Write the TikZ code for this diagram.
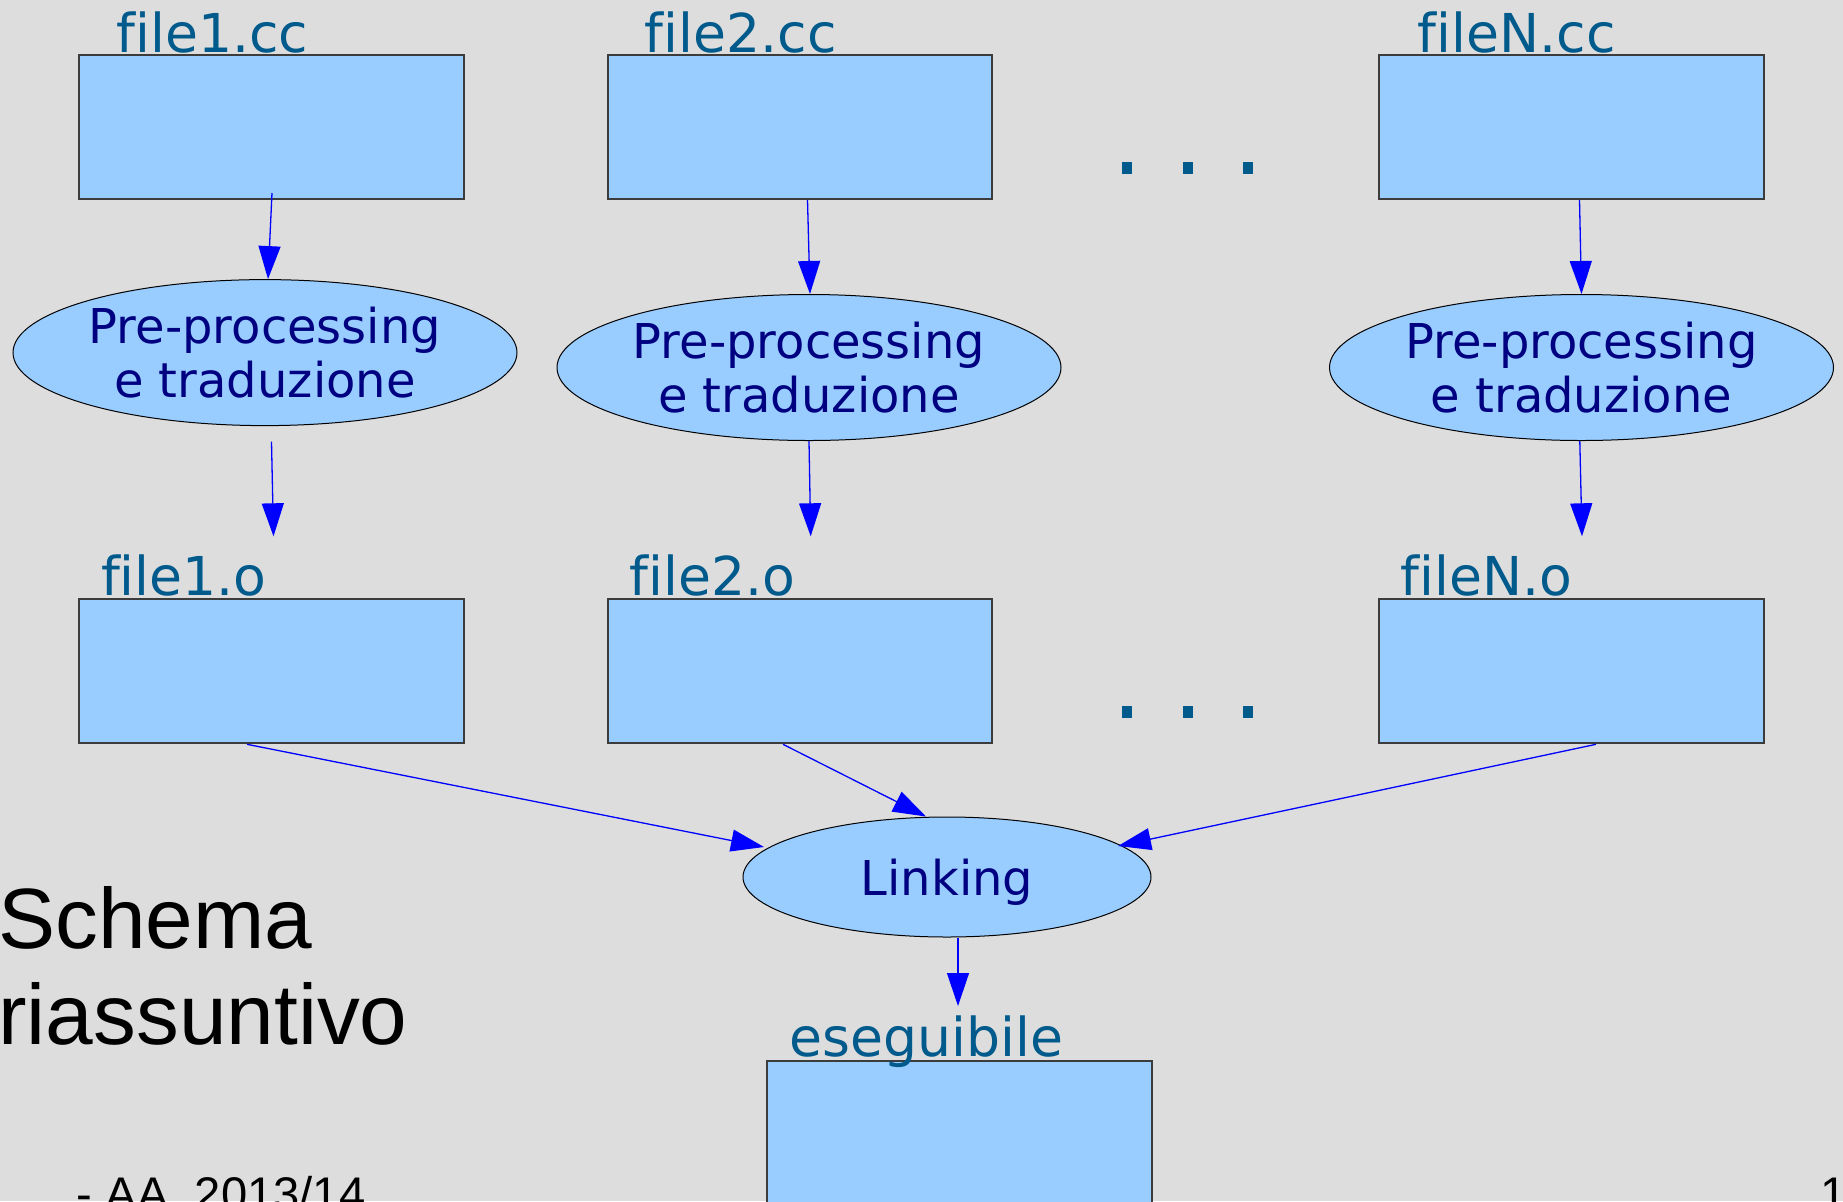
\documentclass[tikz,border=0pt]{standalone}
\usepackage{fontspec}
\setmainfont[Ligatures={NoCommon}]{DejaVu Sans}
\newfontfamily\arialfont[Ligatures={NoCommon}]{Liberation Sans}
\usetikzlibrary{shapes.geometric,arrows.meta,calc}
\definecolor{bg}{HTML}{DDDDDD}
\definecolor{boxfill}{HTML}{99CCFF}
\definecolor{lblcol}{RGB}{0,90,140}
\definecolor{navytext}{HTML}{000080}
\definecolor{boxline}{HTML}{3C3C3C}
\begin{document}
\begin{tikzpicture}[x=0.5pt,y=-0.5pt,
  filebox/.style={draw=boxline,line width=1pt,fill=boxfill,minimum width=192.25pt,minimum height=72pt,inner sep=0pt},
  proc/.style={ellipse,draw=black,line width=0.5pt,fill=boxfill,minimum width=252pt,minimum height=73pt,inner sep=0pt,align=center,text=navytext,font=\fontsize{24}{27.25}\selectfont},
  lbl/.style={anchor=base west,inner sep=0pt,text=lblcol,font=\fontsize{26.8}{30}\selectfont},
  arr/.style={draw=blue,line width=0.65pt,-{Triangle[length=16.5pt,width=11pt]}},
  plain/.style={inner sep=0pt,text=black,font=\arialfont\fontsize{23.6}{28}\selectfont}]
\fill[bg] (0,0) rectangle (1843,1201);
\useasboundingbox (0,0) rectangle (1843,1201);
\clip (0,0) rectangle (1843,1201);

% file boxes
\node[filebox] (b1) at (271.5,127) {};
\node[filebox] (b2) at (800,127) {};
\node[filebox] (bN) at (1571.5,127) {};
\node[filebox] (o1) at (271.5,671.3) {};
\node[filebox] (o2) at (800,671.3) {};
\node[filebox] (oN) at (1571.5,671.3) {};
\node[filebox] (ex) at (959.7,1132.7) {};

% labels
\node[lbl] (t1) at (116,52) {file1.cc};
\node[lbl] (t2) at (644.5,52) {file2.cc};
\node[lbl] (tN) at (1417.5,52) {fileN.cc};
\node[lbl] (u1) at (100.7,595) {file1.o};
\node[lbl] (u2) at (629,595) {file2.o};
\node[lbl] (uN) at (1400,595) {fileN.o};
\node[lbl] (ue) at (789.5,1056.7) {eseguibile};

% processing ellipses
\node[proc] (e1) at (265,352.6) {Pre-processing\\e traduzione};
\node[proc] (e2) at (809,367.5) {Pre-processing\\e traduzione};
\node[proc] (eN) at (1581.5,367.5) {Pre-processing\\e traduzione};
\node[proc,minimum width=204pt,minimum height=60pt,text depth=0pt] (link) at (947,877) {Linking};

% dots
\fill[lblcol] (1122,162) rectangle (1132,174);
\fill[lblcol] (1183,162) rectangle (1193,174);
\fill[lblcol] (1243,162) rectangle (1253,174);
\fill[lblcol] (1122,706) rectangle (1132,718);
\fill[lblcol] (1183,706) rectangle (1193,718);
\fill[lblcol] (1243,706) rectangle (1253,718);

% side texts
\node[anchor=north west,inner sep=0pt,align=left,font=\arialfont\fontsize{42.8}{47.85}\selectfont] (title) at (-2,886) {Schema\\riassuntivo};
\node[plain,anchor=base west] (foot) at (76.5,1210) {- AA\ \ 2013/14};
\node[plain,anchor=base west] (pg) at (1820,1210) {1};

% arrows
\draw[arr] ($(b1.south)+(0.5,-7)$) -- ($(e1.north)+(3,0)$);
\draw[arr] ($(e1.south)+(6.5,15.5)$) -- ($(o1.north)+(2,-62)$);
\draw[arr] ($(b2.south)+(7.5,0)$) -- ($(e2.north)+(1,0)$);
\draw[arr] (e2.south) -- ($(o2.north)+(10.7,-62)$);
\draw[arr] ($(bN.south)+(8,0)$) -- (eN.north);
\draw[arr] ($(eN.south)+(-1.7,0)$) -- ($(oN.north)+(10.5,-62)$);
\draw[arr] ($(o1.south)+(-24.5,0)$) -- ($(link.center)+(-183,-30)$);
\draw[arr] ($(o2.south)+(-17,0)$) -- ($(link.north)+(-21,0)$);
\draw[arr] ($(oN.south)+(24.5,0)$) -- ($(link.center)+(171,-31)$);
\draw[arr] ($(link.south)+(11,0)$) -- ($(ex.north)+(-1.7,-53.7)$);
\end{tikzpicture}
\end{document}
